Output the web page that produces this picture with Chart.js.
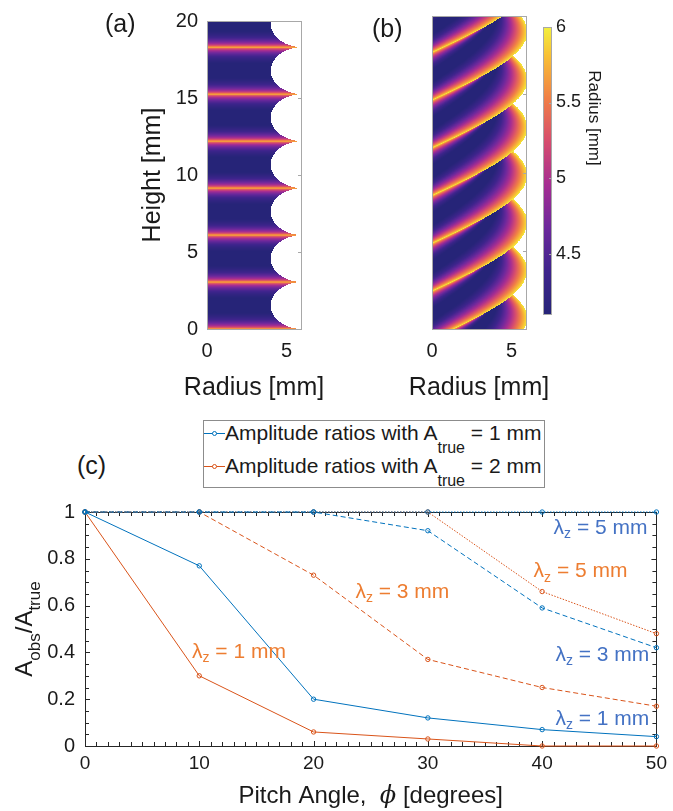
<!DOCTYPE html>
<html lang="en">
<head>
<meta charset="UTF-8">
<title>Amplitude ratios vs pitch angle</title>
<script src="https://cdn.jsdelivr.net/npm/chart.js"></script>
<style>
  body { margin: 0; width: 673px; height: 811px; position: relative; background: #fff; overflow: hidden;
         font-family: "Liberation Sans", Arial, sans-serif; color: #1a1a1a; }
  canvas { position: absolute; }
  .tag { position: absolute; font-size: 25px; line-height: 1; }
  #legend { position: absolute; left: 203px; top: 420px; width: 342px; height: 68px; box-sizing: border-box;
            border: 1px solid #8c8c8c; background: #fff; font-size: 21px; line-height: 1; white-space: nowrap; }
  #legend .txt { position: absolute; left: 21px; }
  #legend .sub { font-size: 16px; position: relative; top: 13px; }
  #legend .smp { position: absolute; left: 0; width: 21px; height: 1px; }
  #legend .dot { position: absolute; left: 8px; top: -2px; width: 3px; height: 3px; border-radius: 50%; border: 1px solid; box-sizing: content-box; background: #fff; }
</style>
</head>
<body>
  <canvas id="panelA" width="240" height="410" style="left:100px; top:0"></canvas>
  <canvas id="panelB" width="230" height="410" style="left:330px; top:0"></canvas>
  <canvas id="colourBar" width="143" height="410" style="left:530px; top:0"></canvas>
  <canvas id="ratioChart" width="673" height="321" style="left:0; top:490px"></canvas>

  <div class="tag" style="left:105px; top:11px">(a)</div>
  <div class="tag" style="left:372px; top:16px">(b)</div>
  <div class="tag" style="left:77px; top:453px">(c)</div>

  <div id="legend">
    <div class="smp" style="top:12px; background:#0072BD"><div class="dot" style="border-color:#0072BD"></div></div>
    <div class="txt" style="top:1px">Amplitude ratios with A<span class="sub">true</span> = 1 mm</div>
    <div class="smp" style="top:45px; background:#D95319"><div class="dot" style="border-color:#D95319"></div></div>
    <div class="txt" style="top:34px">Amplitude ratios with A<span class="sub">true</span> = 2 mm</div>
  </div>

<script>
Chart.defaults.font.family = '"Liberation Sans", Arial, sans-serif';
Chart.defaults.color = '#1a1a1a';
Chart.defaults.animation = false;

// ---- panel (c) data ----
const pitchAngles = [0, 10, 20, 30, 40, 50];
const ratio1mmLambda1 = [1, 0.77, 0.20, 0.12, 0.07, 0.04];
const ratio1mmLambda3 = [1, 1, 1, 0.92, 0.59, 0.42];
const ratio1mmLambda5 = [1, 1, 1, 1, 1, 1];
const ratio2mmLambda1 = [1, 0.30, 0.06, 0.03, 0, 0];
const ratio2mmLambda3 = [1, 1, 0.73, 0.37, 0.25, 0.17];
const ratio2mmLambda5 = [1, 1, 1, 1, 0.66, 0.48];
const angleTicks = [0, 10, 20, 30, 40, 50];
const ratioTicks = [0, 0.2, 0.4, 0.6, 0.8, 1];

// ---- panels (a), (b) ----
const radiusTicks = [0, 5];
const heightTicks = [0, 5, 10, 15, 20];
const colourTicks = [4.5, 5, 5.5, 6];
const colourLimits = [4.1, 6];
// groove model used for the two radius maps
const grooveMin = 4.0;      // mm
const grooveMax = 6.0;      // mm
const lambdaZ = 3.05;       // axial wavelength, mm
const pitchAngleB = 29;     // degrees, panel (b)
const refRadius = 5;        // mm
const phaseOffsetB = 0.68;  // mm
const ridgePowerB = 1.5;
const rayStep = 0.02;       // mm

const plasmaStops = [
  [0.00, [38, 36, 120]],
  [0.15, [62, 36, 140]],
  [0.30, [108, 40, 156]],
  [0.45, [165, 45, 146]],
  [0.60, [214, 76, 110]],
  [0.75, [240, 126, 70]],
  [0.90, [248, 192, 52]],
  [1.00, [242, 240, 62]]
];

const blue = '#0072BD', orange = '#D95319';
const blueText = '#4472C4', orangeText = '#ED7D31';

// lambda_z annotations, in data units
const curveLabels = [
  { mm: 5, x: 41.0, y: 0.93, colour: blueText },
  { mm: 5, x: 39.25, y: 0.745, colour: orangeText },
  { mm: 3, x: 23.66, y: 0.658, colour: orangeText },
  { mm: 3, x: 41.16, y: 0.388, colour: blueText },
  { mm: 1, x: 41.16, y: 0.113, colour: blueText },
  { mm: 1, x: 9.36, y: 0.40, colour: orangeText }
];

const FONT = '"Liberation Sans", Arial, sans-serif';
const plainNumber = v => String(Math.round(v * 100) / 100);

function grooveRadius(phase, power) {
  const p = ((phase % lambdaZ) + lambdaZ) % lambdaZ;
  const u = (p - lambdaZ / 2) / (lambdaZ / 2);
  return grooveMax - (grooveMax - grooveMin) * Math.pow(Math.max(0, 1 - u * u), power / 2);
}

function colourOf(r) {
  let t = (r - colourLimits[0]) / (colourLimits[1] - colourLimits[0]);
  t = Math.min(1, Math.max(0, t));
  for (let i = 1; i < plasmaStops.length; i++) {
    const [t1, c1] = plasmaStops[i];
    const [t0, c0] = plasmaStops[i - 1];
    if (t <= t1) {
      const f = (t - t0) / (t1 - t0);
      return c0.map((c, k) => Math.round(c + (c1[k] - c) * f));
    }
  }
  return plasmaStops[plasmaStops.length - 1][1];
}

// (a): axisymmetric grooves seen from the side
function sampleA(x, z) {
  const r = grooveRadius(z, 1);
  return x <= r ? r : null;
}

// (b): helical grooves, march along the line of sight
const tanB = Math.tan(pitchAngleB * Math.PI / 180);
function sampleB(x, z) {
  if (x > grooveMax) return null;
  const y0 = Math.sqrt(grooveMax * grooveMax - x * x);
  for (let yy = y0; yy >= -y0; yy -= rayStep) {
    const rho = Math.sqrt(x * x + yy * yy);
    const r = grooveRadius(z - phaseOffsetB + refRadius * Math.atan2(yy, x) * tanB, ridgePowerB);
    if (rho <= r) return rho;
  }
  return null;
}

function makeHeatPlugin(sample) {
  let image = null;
  return {
    id: 'heat',
    beforeDatasetsDraw(chart) {
      const { ctx, chartArea: a, scales: { x, y } } = chart;
      const w = Math.round(a.right - a.left), h = Math.round(a.bottom - a.top);
      if (!image) {
        image = document.createElement('canvas');
        image.width = w; image.height = h;
        const g = image.getContext('2d');
        const data = g.createImageData(w, h);
        for (let j = 0; j < h; j++) {
          const zv = y.getValueForPixel(a.top + j + 0.5);
          for (let i = 0; i < w; i++) {
            const xv = x.getValueForPixel(a.left + i + 0.5);
            const r = sample(xv, zv);
            const c = r === null ? [255, 255, 255] : colourOf(r);
            const k = (j * w + i) * 4;
            data.data[k] = c[0]; data.data[k + 1] = c[1]; data.data[k + 2] = c[2]; data.data[k + 3] = 255;
          }
        }
        g.putImageData(data, 0, 0);
      }
      ctx.drawImage(image, Math.round(a.left), Math.round(a.top));
    },
    afterDatasetsDraw(chart) {
      const { ctx, chartArea: a, scales: { y } } = chart;
      ctx.save();
      ctx.strokeStyle = '#a8a8a8';
      ctx.lineWidth = 1;
      ctx.beginPath();
      heightTicks.forEach(v => {
        const py = Math.round(y.getPixelForValue(v)) + 0.5;
        ctx.moveTo(a.right, py); ctx.lineTo(a.right - 3, py);
      });
      ctx.stroke();
      ctx.strokeRect(Math.round(a.left) + 0.5, Math.round(a.top) + 0.5,
                     Math.round(a.right - a.left), Math.round(a.bottom - a.top));
      // x title (drawn here so it is not squeezed to the narrow axis width)
      ctx.fillStyle = '#1a1a1a';
      ctx.font = '25px ' + FONT;
      ctx.textAlign = 'center';
      ctx.textBaseline = 'middle';
      ctx.fillText('Radius [mm]', (a.left + a.right) / 2, 388);
      ctx.restore();
    }
  };
}

function heatConfig(sample, leftWidth, rightPad, showHeight) {
  return {
    type: 'scatter',
    data: { datasets: [{ data: [] }] },
    options: {
      responsive: false,
      animation: false,
      layout: { padding: { top: 16, right: rightPad, left: 0, bottom: 0 } },
      plugins: { legend: { display: false }, tooltip: { enabled: false } },
      scales: {
        x: {
          type: 'linear', min: 0, max: 5.9,
          afterBuildTicks: s => { s.ticks = radiusTicks.map(v => ({ value: v })); },
          afterFit: s => { s.height = 81; },
          grid: { display: false, drawTicks: false },
          border: { display: false },
          ticks: { font: { size: 20 }, padding: 10, maxRotation: 0, color: '#1a1a1a', callback: plainNumber }
        },
        y: {
          type: 'linear', min: 0, max: 20,
          afterBuildTicks: s => { s.ticks = heightTicks.map(v => ({ value: v })); },
          afterFit: s => { s.width = leftWidth; },
          grid: { display: false, drawTicks: false },
          border: { display: false },
          ticks: { display: showHeight, font: { size: 20 }, padding: 9, color: '#1a1a1a', callback: plainNumber },
          title: { display: showHeight, text: 'Height [mm]', font: { size: 25 }, color: '#1a1a1a', padding: { top: 38, bottom: 0 } }
        }
      }
    },
    plugins: [makeHeatPlugin(sample)]
  };
}

new Chart(document.getElementById('panelA'), heatConfig(sampleA, 107, 39, true));
new Chart(document.getElementById('panelB'), heatConfig(sampleB, 102, 34, false));

// ---- colour bar ----
const barPlugin = {
  id: 'bar',
  beforeDatasetsDraw(chart) {
    const { ctx, chartArea: a, scales: { y } } = chart;
    for (let py = Math.round(a.top); py < Math.round(a.bottom); py++) {
      const c = colourOf(y.getValueForPixel(py + 0.5));
      ctx.fillStyle = `rgb(${c[0]},${c[1]},${c[2]})`;
      ctx.fillRect(a.left, py, a.right - a.left, 1);
    }
    ctx.save();
    ctx.strokeStyle = '#a8a8a8';
    ctx.lineWidth = 1;
    ctx.strokeRect(Math.round(a.left) + 0.5, Math.round(a.top) + 0.5,
                   Math.round(a.right - a.left), Math.round(a.bottom - a.top));
    ctx.beginPath();
    colourTicks.forEach(v => {
      const py = Math.round(y.getPixelForValue(v)) + 0.5;
      ctx.moveTo(a.right, py); ctx.lineTo(a.right - 2, py);
    });
    ctx.stroke();
    ctx.fillStyle = '#1a1a1a';
    ctx.font = '17px ' + FONT;
    ctx.translate(64, 118);
    ctx.rotate(Math.PI / 2);
    ctx.textAlign = 'center';
    ctx.textBaseline = 'middle';
    ctx.fillText('Radius [mm]', 0, 0);
    ctx.restore();
  }
};

new Chart(document.getElementById('colourBar'), {
  type: 'scatter',
  data: { datasets: [{ data: [] }] },
  options: {
    responsive: false,
    animation: false,
    layout: { padding: { top: 27, right: 0, left: 13, bottom: 96 } },
    plugins: { legend: { display: false }, tooltip: { enabled: false } },
    scales: {
      x: { display: false, min: 0, max: 1 },
      y: {
        position: 'right', min: colourLimits[0], max: colourLimits[1],
        afterBuildTicks: s => { s.ticks = colourTicks.map(v => ({ value: v })); },
        afterFit: s => { s.width = 122; },
        grid: { display: false, drawTicks: false },
        border: { display: false },
        ticks: { font: { size: 18 }, padding: 5, color: '#1a1a1a', callback: plainNumber }
      }
    }
  },
  plugins: [barPlugin]
});

// ---- panel (c) ----
function series(values, colour, dash) {
  return {
    data: values.map((v, i) => ({ x: pitchAngles[i], y: v })),
    showLine: true,
    borderColor: colour,
    borderWidth: 1,
    borderDash: dash,
    pointRadius: 2.2,
    pointBorderWidth: 1,
    pointBorderColor: colour,
    pointBackgroundColor: 'rgba(255,255,255,0)',
    clip: false
  };
}

const dashed = [5, 3], dotted = [1.5, 1.5];

const framePlugin = {
  id: 'frame',
  beforeDatasetsDraw(chart) {
    const { ctx, chartArea: a, scales: { x, y } } = chart;
    ctx.save();
    ctx.strokeStyle = '#262626';
    ctx.lineWidth = 1;
    ctx.beginPath();
    for (let v = 0; v <= 50; v++) {
      const len = v % 10 === 0 ? 5 : 4;
      const px = Math.round(x.getPixelForValue(v)) + 0.5;
      ctx.moveTo(px, a.bottom); ctx.lineTo(px, a.bottom - len);
      ctx.moveTo(px, a.top); ctx.lineTo(px, a.top + len);
    }
    for (let k = 0; k <= 20; k++) {
      const len = k % 4 === 0 ? 5 : 4;
      const py = Math.round(y.getPixelForValue(k * 0.05)) + 0.5;
      ctx.moveTo(a.left, py); ctx.lineTo(a.left + len, py);
      ctx.moveTo(a.right, py); ctx.lineTo(a.right - len, py);
    }
    ctx.stroke();
    ctx.strokeRect(Math.round(a.left) + 0.5, Math.round(a.top) + 0.5,
                   Math.round(a.right - a.left), Math.round(a.bottom - a.top));
    ctx.restore();
  },
  afterDatasetsDraw(chart) {
    const { ctx, chartArea: a, scales: { x, y } } = chart;
    ctx.save();
    ctx.textBaseline = 'middle';
    ctx.textAlign = 'left';
    curveLabels.forEach(l => {
      let px = x.getPixelForValue(l.x);
      const py = y.getPixelForValue(l.y);
      ctx.fillStyle = l.colour;
      ctx.font = '21px ' + FONT;
      ctx.fillText('λ', px, py);
      px += ctx.measureText('λ').width;
      ctx.font = '14px ' + FONT;
      ctx.fillText('z', px, py + 6);
      px += ctx.measureText('z').width;
      ctx.font = '21px ' + FONT;
      ctx.fillText(' = ' + l.mm + ' mm', px, py);
    });

    // axis titles
    ctx.fillStyle = '#1a1a1a';
    ctx.textBaseline = 'alphabetic';
    const big = '24px ' + FONT, small = '17px ' + FONT;
    const parts = [['A', big, 0], ['obs', small, 8], ['/A', big, 0], ['true', small, 8]];
    let total = 0;
    parts.forEach(p => { ctx.font = p[1]; total += ctx.measureText(p[0]).width; });
    ctx.save();
    ctx.translate(26, (a.top + a.bottom) / 2);
    ctx.rotate(-Math.PI / 2);
    let cx = -total / 2;
    parts.forEach(p => {
      ctx.font = p[1];
      ctx.fillText(p[0], cx, 6 + p[2]);
      cx += ctx.measureText(p[0]).width;
    });
    ctx.restore();

    const xParts = [['Pitch Angle,  ', '24px ' + FONT], ['ϕ', 'italic 24px "DejaVu Serif", serif'], [' [degrees]', '24px ' + FONT]];
    let xw = 0;
    xParts.forEach(p => { ctx.font = p[1]; xw += ctx.measureText(p[0]).width; });
    let tx = (a.left + a.right) / 2 - xw / 2;
    xParts.forEach(p => {
      ctx.font = p[1];
      ctx.fillText(p[0], tx, 313);
      tx += ctx.measureText(p[0]).width;
    });
    ctx.restore();
  }
};

new Chart(document.getElementById('ratioChart'), {
  type: 'scatter',
  data: {
    datasets: [
      series(ratio1mmLambda1, blue, []),
      series(ratio1mmLambda3, blue, dashed),
      series(ratio1mmLambda5, blue, dotted),
      series(ratio2mmLambda1, orange, []),
      series(ratio2mmLambda3, orange, dashed),
      series(ratio2mmLambda5, orange, dotted)
    ]
  },
  options: {
    responsive: false,
    animation: false,
    layout: { padding: { top: 16, right: 11, left: 0, bottom: 0 } },
    plugins: { legend: { display: false }, tooltip: { enabled: false } },
    scales: {
      x: {
        type: 'linear', min: 0, max: 50,
        afterBuildTicks: s => { s.ticks = angleTicks.map(v => ({ value: v })); },
        afterFit: s => { s.height = 65; },
        grid: { display: false, drawTicks: false },
        border: { display: false },
        ticks: { font: { size: 19 }, padding: 6, maxRotation: 0, color: '#1a1a1a', callback: plainNumber }
      },
      y: {
        type: 'linear', min: 0, max: 1,
        afterBuildTicks: s => { s.ticks = ratioTicks.map(v => ({ value: v })); },
        afterFit: s => { s.width = 85; },
        grid: { display: false, drawTicks: false },
        border: { display: false },
        ticks: { font: { size: 20 }, padding: 10, color: '#1a1a1a', callback: plainNumber }
      }
    }
  },
  plugins: [framePlugin]
});
</script>
</body>
</html>
